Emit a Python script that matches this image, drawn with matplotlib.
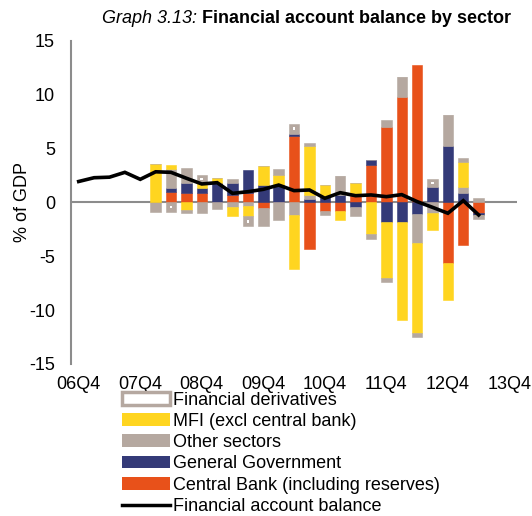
import numpy as np
import matplotlib
matplotlib.use("Agg")
from matplotlib import pyplot as plt
from matplotlib.patches import Patch
from matplotlib.lines import Line2D

plt.rcParams['font.family'] = ['Liberation Sans', 'DejaVu Sans']
plt.rcParams['axes.unicode_minus'] = False

# quarters on the category axis, 06Q4 .. 13Q4
quarters = [f"{y:02d}Q{q}" for y in range(6, 14) for q in range(1, 5)][3:]
tick_labels = quarters[::4]

# financial account balance, 06Q4 .. 13Q2
balance = [1.95, 2.3, 2.35, 2.8, 2.15, 2.85, 2.8, 2.25, 1.72, 1.84, 0.85, 1.0,
           1.22, 1.62, 1.1, 1.16, 0.39, 0.91, 0.63, 0.7, 0.54, 0.73, 0.08,
           -0.45, -1.0, 0.17, -1.16]

# sector contributions, 08Q1 .. 13Q2
bar_start = quarters.index("08Q1")
central_bank = [0, 1.0, 0.85, 0.9, 0, 0.7, 0.85, -0.5, 0, 6.2, -4.3, -0.8,
                -0.8, 0.8, 3.5, 7.0, 9.8, 12.75, 0, -5.65, -3.95, -1.0]
general_gov = [0, 0.3, 0.95, 0.45, 1.8, 1.1, 2.2, 1.6, 1.6, 0.2, 0.3, 0.5,
               0.7, -0.4, 0.45, -1.8, -1.8, -1.05, 1.45, 5.2, 0.9, -0.15]
other_sectors = [-0.9, 1.85, 1.4, -1.0, -0.65, -0.4, -0.35, -1.7, -1.6, -1.15,
                 0.4, -0.4, 1.8, -0.85, 0, 0.7, 1.9, -2.7, -1.0, 2.95, 0.55, 0.4]
mfi = [3.6, 0.3, -0.7, 0.45, 0.5, -0.9, -0.95, 1.8, 0.95, -5.05, 4.55, 1.1,
       -0.8, 1.05, -2.9, -5.25, -9.1, -8.35, -1.55, -3.45, 2.35, -0.05]
derivatives = [0, -0.85, -0.3, 0.75, 0, 0.35, -0.9, 0, 0.6, 0.9, 0.3, 0,
               0, 0, -0.45, -0.3, 0, -0.35, 0.75, 0, 0.35, -0.35]

c_cb = '#E8511A'
c_gg = '#343A78'
c_oth = '#B5A8A0'
c_mfi = '#FFD520'
c_grey = '#8C8C8C'

fig = plt.figure(figsize=(5.32, 5.16), dpi=100)
ax = fig.add_axes([0.1335, 0.2946, 0.8385, 0.626])

xb = np.arange(bar_start, bar_start + len(mfi))
w = 0.68
pos = np.zeros(len(xb))
neg = np.zeros(len(xb))
series = [(central_bank, c_cb), (general_gov, c_gg), (other_sectors, c_oth),
          (mfi, c_mfi), (derivatives, c_oth)]
for k, (vals, col) in enumerate(series):
    v = np.array(vals, dtype=float)
    base = np.where(v >= 0, pos, neg)
    ax.bar(xb, v, w, bottom=base, color=col, edgecolor=col, linewidth=0.4, zorder=2)
    if k == 4:
        # white core of the derivatives boxes
        inner = np.sign(v) * np.clip(np.abs(v) - 0.6, 0, None)
        ax.bar(xb, inner, 0.18, bottom=base + np.sign(v) * 0.3, color='white',
               linewidth=0, zorder=3)
    pos = np.where(v >= 0, pos + v, pos)
    neg = np.where(v < 0, neg + v, neg)

ax.plot(np.arange(len(balance)), balance, color='black', lw=2.6, zorder=4,
        solid_joinstyle='miter')
ax.axhline(0, color=c_grey, lw=1.5, zorder=1)

ax.set_xlim(-0.5, len(quarters) - 0.5)
ax.set_ylim(-15, 15)
ax.set_yticks(np.arange(-15, 16, 5))
ax.set_xticks(np.arange(0, len(quarters), 4))
ax.set_xticklabels(tick_labels)
ax.tick_params(axis='both', length=0, labelsize=13)
ax.tick_params(axis='y', pad=11.5)
ax.tick_params(axis='x', pad=8.5)
for s in ['top', 'right', 'bottom']:
    ax.spines[s].set_visible(False)
ax.spines['left'].set_color(c_grey)
ax.spines['left'].set_linewidth(1.5)
ax.set_ylabel('% of GDP', fontsize=13)
ax.yaxis.set_label_coords(-0.09, 0.5)

fig.text(0.38, 0.965, 'Graph 3.13: ', style='italic', fontsize=13,
         ha='right', va='center')
fig.text(0.38, 0.965, 'Financial account balance by sector', weight='bold',
         fontsize=13, ha='left', va='center')

handles = [Patch(facecolor='white', edgecolor=c_oth, linewidth=2.5),
           Patch(facecolor=c_mfi), Patch(facecolor=c_oth),
           Patch(facecolor=c_gg), Patch(facecolor=c_cb),
           Line2D([0], [0], color='black', lw=2.5)]
labels = ['Financial derivatives', 'MFI (excl central bank)', 'Other sectors',
          'General Government', 'Central Bank (including reserves)',
          'Financial account balance']
fig.legend(handles, labels, loc='upper left', bbox_to_anchor=(0.229, 0.241),
           frameon=False, fontsize=13, handlelength=2.65, handleheight=0.7,
           handletextpad=0.2, labelspacing=0.235, borderpad=0, borderaxespad=0)

fig.savefig('out.png', dpi=100)
